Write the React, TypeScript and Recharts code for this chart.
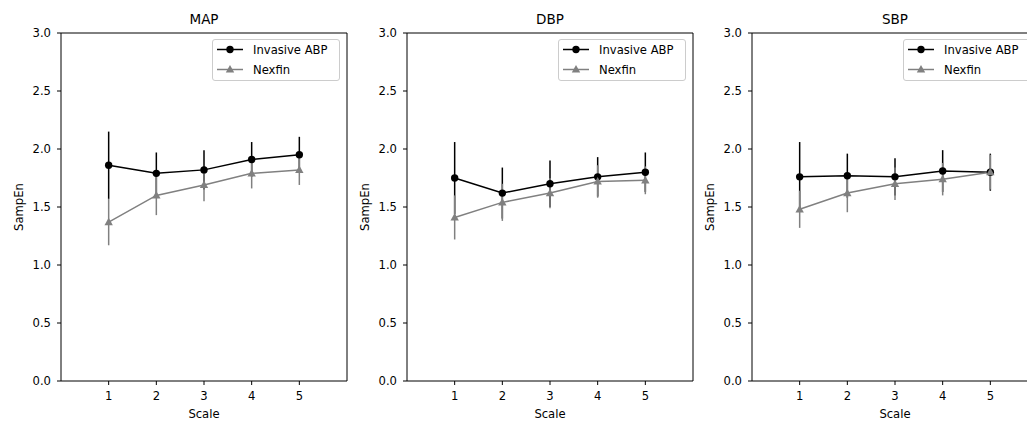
import { ErrorBar, Legend, Line, LineChart, ReferenceArea, XAxis, YAxis } from 'recharts'

const SCALES = [1, 2, 3, 4, 5]
const Y_TICKS = [0, 0.5, 1, 1.5, 2, 2.5, 3]
const PANELS = ['MAP', 'DBP', 'SBP']

const MAP_INV = [1.86, 1.79, 1.82, 1.91, 1.95]
const MAP_INV_ERR = [0.29, 0.18, 0.17, 0.15, 0.155]
const MAP_NEX = [1.37, 1.6, 1.69, 1.79, 1.82]
const MAP_NEX_ERR = [0.2, 0.17, 0.14, 0.13, 0.13]

const DBP_INV = [1.75, 1.62, 1.7, 1.76, 1.8]
const DBP_INV_ERR = [0.31, 0.22, 0.2, 0.17, 0.17]
const DBP_NEX = [1.41, 1.54, 1.62, 1.72, 1.73]
const DBP_NEX_ERR = [0.19, 0.16, 0.13, 0.14, 0.12]

const SBP_INV = [1.76, 1.77, 1.76, 1.81, 1.8]
const SBP_INV_ERR = [0.3, 0.19, 0.16, 0.18, 0.16]
const SBP_NEX = [1.48, 1.62, 1.7, 1.74, 1.8]
const SBP_NEX_ERR = [0.16, 0.165, 0.14, 0.14, 0.15]

const FONT = '"DejaVu Sans", sans-serif'
const GRAY = '#808080'
const FS = 11.6

const rows = (inv: number[], invErr: number[], nex: number[], nexErr: number[]) =>
  SCALES.map((s, i) => ({ scale: s, inv: inv[i], invErr: invErr[i], nex: nex[i], nexErr: nexErr[i] }))

const DATASETS = [
  rows(MAP_INV, MAP_INV_ERR, MAP_NEX, MAP_NEX_ERR),
  rows(DBP_INV, DBP_INV_ERR, DBP_NEX, DBP_NEX_ERR),
  rows(SBP_INV, SBP_INV_ERR, SBP_NEX, SBP_NEX_ERR),
]

const Circle = (props: any) => {
  const { cx, cy } = props
  if (cx == null || cy == null) return null
  return <circle cx={cx} cy={cy} r={3.7} fill="#000" />
}

const Triangle = (props: any) => {
  const { cx, cy } = props
  if (cx == null || cy == null) return null
  return <path d={`M${cx},${cy - 4.4} L${cx + 4.2},${cy + 3.1} L${cx - 4.2},${cy + 3.1} Z`} fill={GRAY} />
}

function LegendBox() {
  const items = [
    { label: 'Invasive ABP', color: '#000', tri: false },
    { label: 'Nexfin', color: GRAY, tri: true },
  ]
  return (
    <div
      style={{
        border: '1px solid #cccccc',
        borderRadius: 3,
        background: 'rgba(255,255,255,0.8)',
        padding: '0 0 0 4px',
        fontFamily: FONT,
        fontSize: FS,
        color: '#000',
        boxSizing: 'border-box',
        width: 128,
        height: 42,
      }}
    >
      {items.map((it) => (
        <div key={it.label} style={{ display: 'flex', alignItems: 'center', height: 20 }}>
          <svg width={36} height={20} style={{ flexShrink: 0 }}>
            <line x1={0} x2={26} y1={9.5} y2={9.5} stroke={it.color} strokeWidth={1.5} />
            {it.tri ? (
              <path d="M13,5.1 L17.2,12.6 L8.8,12.6 Z" fill={GRAY} />
            ) : (
              <circle cx={13} cy={9.5} r={3.7} fill="#000" />
            )}
          </svg>
          <span style={{ whiteSpace: 'nowrap', lineHeight: '20px' }}>{it.label}</span>
        </div>
      ))}
    </div>
  )
}

function Panel({ title, data, left }: { title: string; data: any[]; left: number }) {
  return (
    <div style={{ position: 'absolute', left, top: 0, width: 350, height: 421 }}>
      <div
        style={{
          position: 'absolute',
          left: 61,
          width: 286,
          top: 11.3,
          textAlign: 'center',
          fontFamily: FONT,
          fontSize: 13.5,
          lineHeight: '16px',
          color: '#000',
        }}
      >
        {title}
      </div>
      <LineChart width={350} height={421} data={data} margin={{ top: 33, right: 3, bottom: 0, left: 0 }}>
        <XAxis
          type="number"
          dataKey="scale"
          domain={[0, 6]}
          ticks={SCALES}
          axisLine={false}
          tickLine={{ stroke: '#000', strokeWidth: 1 }}
          tickSize={4}
          tickMargin={6.5}
          height={40}
          tick={{ fontSize: FS, fill: '#000', fontFamily: FONT }}
          label={{
            content: () => (
              <text x={204} y={418} textAnchor="middle" fontSize={FS} fontFamily={FONT} fill="#000">
                Scale
              </text>
            ),
          }}
        />
        <YAxis
          type="number"
          domain={[0, 3]}
          ticks={Y_TICKS}
          tickFormatter={(v: number) => v.toFixed(1)}
          axisLine={false}
          tickLine={{ stroke: '#000', strokeWidth: 1 }}
          tickSize={4}
          tickMargin={6}
          width={61}
          tick={{ fontSize: FS, fill: '#000', fontFamily: FONT }}
          label={{
            content: () => (
              <text
                x={23}
                y={207}
                transform="rotate(-90 23 207)"
                textAnchor="middle"
                fontSize={FS}
                fontFamily={FONT}
                fill="#000"
              >
                SampEn
              </text>
            ),
          }}
        />
        <ReferenceArea x1={0} x2={6} y1={0} y2={3} fill="none" stroke="#000" strokeWidth={1} />
        <Line
          type="linear"
          dataKey="inv"
          name="Invasive ABP"
          stroke="#000"
          strokeWidth={1.5}
          dot={Circle}
          activeDot={false}
          isAnimationActive={false}
        >
          <ErrorBar dataKey="invErr" width={0} stroke="#000" strokeWidth={1.5} direction="y" />
        </Line>
        <Line
          type="linear"
          dataKey="nex"
          name="Nexfin"
          stroke={GRAY}
          strokeWidth={1.5}
          dot={Triangle}
          activeDot={false}
          isAnimationActive={false}
        >
          <ErrorBar dataKey="nexErr" width={0} stroke={GRAY} strokeWidth={1.5} direction="y" />
        </Line>
        <Legend
          layout="vertical"
          align="center"
          verticalAlign="middle"
          content={LegendBox}
          wrapperStyle={{ top: 39, left: 212, width: 128, height: 42 }}
        />
      </LineChart>
    </div>
  )
}

export default function App() {
  const lefts = [0, 346, 691]
  return (
    <div
      style={{
        position: 'absolute',
        left: 0,
        top: 0,
        width: 1027,
        height: 421,
        overflow: 'hidden',
        background: '#fff',
        fontFamily: FONT,
      }}
    >
      {PANELS.map((t, i) => (
        <Panel key={t} title={t} data={DATASETS[i]} left={lefts[i]} />
      ))}
    </div>
  )
}
